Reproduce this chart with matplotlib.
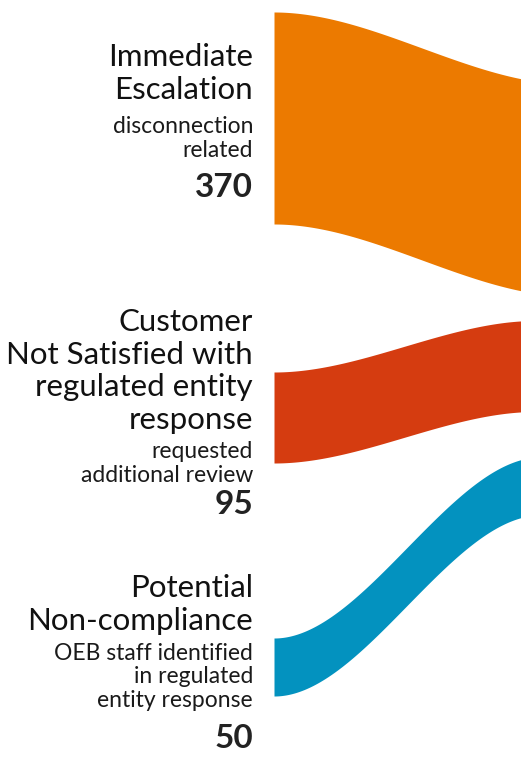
import numpy as np
import matplotlib.pyplot as plt

# categories / labels
titles = ["Immediate\nEscalation",
          "Customer\nNot Satisfied with\nregulated entity\nresponse",
          "Potential\nNon-compliance"]
subtitles = ["disconnection\nrelated",
             "requested\nadditional review",
             "OEB staff identified\nin regulated\nentity response"]
counts = [370, 95, 50]
colors = ["#EC7A00", "#D53C10", "#0392BF"]

# flow geometry (pixel layout of the partial sankey)
left_top = [12, 372, 638]
left_bot = [224, 463, 696]
right_top = [84, 320.5, 457]
band_end = [570, 535, 540]
x_start = 274

# baseline of the last line of each text block: title, subtitle, count
title_y = [99, 429, 630]
sub_y = [157, 482, 707]
count_y = [197, 514, 748]

plt.rcParams['font.family'] = ['Lato', 'DejaVu Sans']

fig = plt.figure(figsize=(5.21, 7.6), dpi=100)
ax = fig.add_axes([0, 0, 1, 1])
ax.set_xlim(0, 521)
ax.set_ylim(760, 0)
ax.axis('off')

for i in range(3):
    x = np.linspace(x_start, band_end[i], 300)
    t = (x - x_start) / (band_end[i] - x_start)
    s = 3 * t**2 - 2 * t**3
    width = left_bot[i] - left_top[i]
    top = left_top[i] + (right_top[i] - left_top[i]) * s
    ax.fill_between(x, top, top + width, color=colors[i], linewidth=0)

    ax.text(253, title_y[i], titles[i], ha='right', va='baseline',
            fontsize=22.5, linespacing=1.2, color='#111111')
    ax.text(253, sub_y[i], subtitles[i], ha='right', va='baseline',
            fontsize=16.5, linespacing=1.15, color='#1a1a1a')
    ax.text(253, count_y[i], str(counts[i]), ha='right', va='baseline',
            fontsize=24, fontweight='bold', color='#222222')

fig.savefig("out.png", dpi=100)
